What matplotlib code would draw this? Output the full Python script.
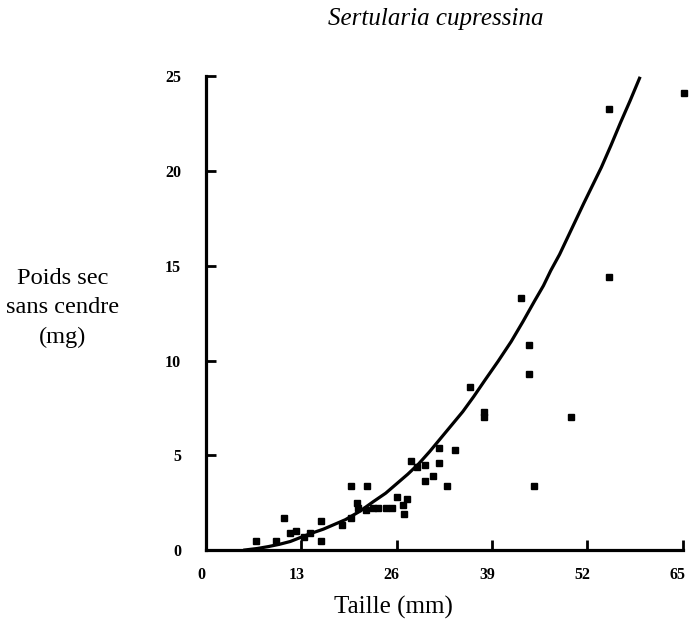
import matplotlib
matplotlib.use("Agg")
import matplotlib.pyplot as plt
import matplotlib.transforms as mtransforms

# Observed points: taille (mm) vs poids sec sans cendre (mg)
taille = [6.8, 9.6, 10.7, 11.5, 12.2, 13.3, 14.2, 15.7, 15.7, 18.6, 19.7, 19.7,
          20.7, 20.6, 21.9, 21.8, 22.7, 23.5, 24.6, 25.4, 26.0, 26.8, 27.0, 27.4,
          27.9, 28.7, 29.9, 29.9, 31.0, 31.7, 31.7, 32.8, 33.9, 36.0, 37.9, 37.9,
          43.0, 44.1, 44.1, 44.7, 49.8, 55.0, 55.0, 65.1]
poids = [0.45, 0.45, 1.7, 0.9, 1.0, 0.7, 0.9, 1.55, 0.45, 1.3, 3.4, 1.7,
         2.2, 2.5, 3.4, 2.1, 2.2, 2.2, 2.2, 2.2, 2.8, 2.4, 1.9, 2.7,
         4.7, 4.4, 4.5, 3.65, 3.9, 5.4, 4.6, 3.4, 5.3, 8.6, 7.0, 7.3,
         13.3, 10.8, 9.3, 3.4, 7.0, 23.3, 14.4, 24.1]

# Fitted curve
courbe_x = [5.3, 7, 8.5, 10, 11.5, 13, 14.5, 16, 17.5, 19, 21, 22.8, 24.5, 26,
            27.5, 29, 30.5, 32, 33.5, 35, 36.5, 38, 39.8, 41.6, 43.2, 44.8,
            46, 47, 48.2, 49.3, 50.4, 51.5, 52.7, 53.9, 55.2, 56.5, 57.8, 59.1]
courbe_y = [0.0, 0.08, 0.18, 0.3, 0.45, 0.68, 0.9, 1.1, 1.35, 1.6, 2.05, 2.55,
            3.0, 3.5, 4.0, 4.55, 5.2, 5.9, 6.6, 7.3, 8.1, 8.95, 9.95, 11.0,
            12.05, 13.15, 13.95, 14.75, 15.6, 16.5, 17.4, 18.3, 19.25, 20.2,
            21.35, 22.55, 23.7, 24.9]

xticks = [0, 13, 26, 39, 52, 65]
yticks = [0, 5, 10, 15, 20, 25]

plt.rcParams['font.family'] = ['Liberation Serif', 'DejaVu Serif']

fig = plt.figure(figsize=(6.89, 6.29), dpi=100)
ax = fig.add_axes([0.299, 0.1256, 0.692, 0.753])

ax.plot(courbe_x, courbe_y, color='black', lw=2.3, solid_joinstyle='round',
        clip_on=False)
ax.plot(taille, poids, 's', color='black', ms=4.2, mec='black', clip_on=False)

ax.set_xlim(0, 65)
ax.set_ylim(0, 25)
ax.set_xticks(xticks)
ax.set_yticks(yticks)
ax.set_xticklabels([str(t) for t in xticks], fontweight='bold', fontsize=11.5)
ax.set_yticklabels([str(t) for t in yticks], fontweight='bold', fontsize=11.5)
ax.tick_params(direction='in', length=7, width=2)
ax.tick_params(axis='x', pad=12)
ax.tick_params(axis='y', pad=18)
off = mtransforms.ScaledTranslation(-5 / 100, 0, fig.dpi_scale_trans)
for lab in ax.get_xticklabels():
    lab.set_transform(lab.get_transform() + off)
for s in ['top', 'right']:
    ax.spines[s].set_visible(False)
for s in ['left', 'bottom']:
    ax.spines[s].set_linewidth(2.3)

fig.text(436/689, 1 - 19/629, 'Sertularia cupressina', style='italic',
         fontsize=18, ha='center', va='center')
fig.text(393/689, 1 - 607/629, 'Taille (mm)', fontsize=18,
         ha='center', va='center')
fig.text(63/689, 1 - 308/629, 'Poids sec\nsans cendre\n(mg)', fontsize=17.6,
         ha='center', va='center', linespacing=1.55)

fig.savefig('out.png', dpi=100)
